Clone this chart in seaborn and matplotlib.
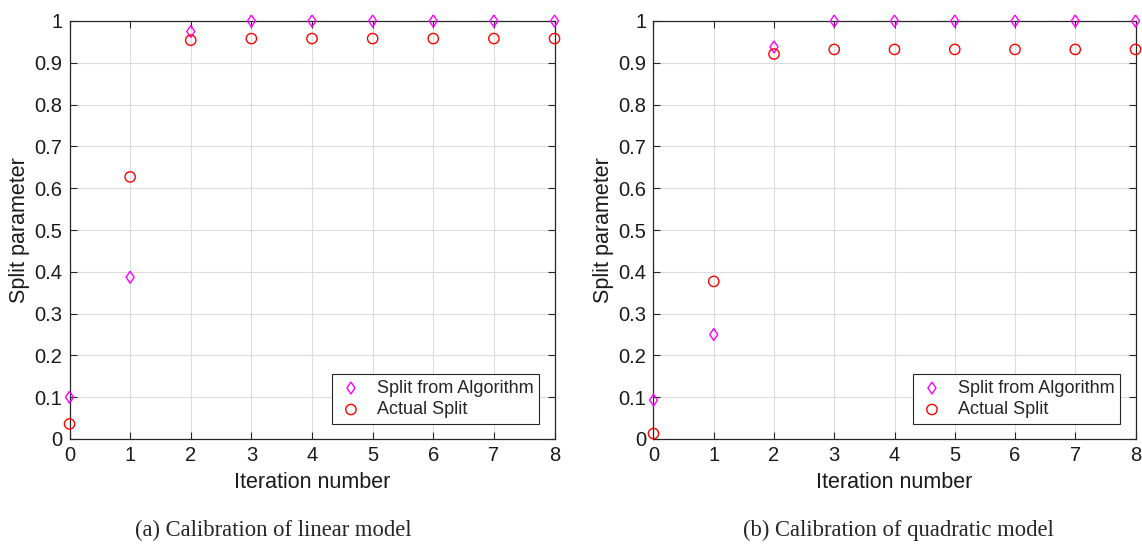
import matplotlib
matplotlib.use("Agg")
import matplotlib.pyplot as plt
import seaborn as sns
import pandas as pd

iterations = [0, 1, 2, 3, 4, 5, 6, 7, 8]
linear_algo = [0.100, 0.387, 0.975, 1.0, 1.0, 1.0, 1.0, 1.0, 1.0]
linear_actual = [0.036, 0.627, 0.954, 0.958, 0.958, 0.958, 0.958, 0.958, 0.958]
quad_algo = [0.093, 0.250, 0.938, 1.0, 1.0, 1.0, 1.0, 1.0, 1.0]
quad_actual = [0.013, 0.377, 0.921, 0.932, 0.932, 0.932, 0.932, 0.932, 0.932]
series_names = ["Split from Algorithm", "Actual Split"]
captions = ["(a) Calibration of linear model", "(b) Calibration of quadratic model"]
yticks = [0, 0.1, 0.2, 0.3, 0.4, 0.5, 0.6, 0.7, 0.8, 0.9, 1]
ytick_labels = ["0", "0.1", "0.2", "0.3", "0.4", "0.5", "0.6", "0.7", "0.8", "0.9", "1"]

sns.set_style("white")
plt.rcParams["font.family"] = ["Liberation Sans", "DejaVu Sans"]

# MATLAB-style diamond marker shape (width/height ~ 0.67)
diamond = [(0, 1), (0.67, 0), (0, -1), (-0.67, 0), (0, 1)]

W, H = 1142, 547
fig = plt.figure(figsize=(W / 100, H / 100), dpi=100)

panels = [(linear_algo, linear_actual), (quad_algo, quad_actual)]
lefts = [69.5, 653.5]
rights = [554.5, 1135.5]
caption_x = [273, 898]
top_px, bot_px = 21, 439

for i, (algo, actual) in enumerate(panels):
    ax = fig.add_axes([lefts[i] / W, 1 - bot_px / H, (rights[i] - lefts[i]) / W, (bot_px - top_px) / H])
    df_algo = pd.DataFrame({"x": iterations, "y": algo})
    df_act = pd.DataFrame({"x": iterations, "y": actual})
    sns.scatterplot(data=df_algo, x="x", y="y", ax=ax, marker=diamond, s=74,
                    facecolor="none", edgecolor="#ff00ff", linewidth=1.0,
                    label=series_names[0], clip_on=False, zorder=5)
    sns.scatterplot(data=df_act, x="x", y="y", ax=ax, marker="o", s=55,
                    facecolor="none", edgecolor="#ff0000", linewidth=1.0,
                    label=series_names[1], clip_on=False, zorder=5)
    ax.set_xlim(0, 8)
    ax.set_ylim(0, 1)
    ax.set_xticks(iterations)
    ax.set_xticklabels([str(v) for v in iterations], fontsize=14.5)
    ax.set_yticks(yticks)
    ax.set_yticklabels(ytick_labels, fontsize=14.5)
    ax.grid(True, color="#dcdcdc", linewidth=0.8)
    ax.set_axisbelow(True)
    for side in ["top", "right", "bottom", "left"]:
        ax.spines[side].set_visible(True)
        ax.spines[side].set_color("#262626")
        ax.spines[side].set_linewidth(0.9)
    ax.tick_params(direction="in", length=5, width=0.8, color="#262626",
                   top=True, right=True, bottom=True, left=True,
                   labelcolor="#1a1a1a", pad=5)
    ax.set_xlabel("Iteration number", fontsize=15.5, color="#1a1a1a", labelpad=5)
    ax.set_ylabel("Split parameter", fontsize=15.5, color="#1a1a1a", labelpad=3)
    leg = ax.legend(loc="lower right", fontsize=13, frameon=True, fancybox=False,
                    edgecolor="#262626", framealpha=1, borderaxespad=0.85,
                    handletextpad=0.7, borderpad=0.3, labelspacing=0.25,
                    handlelength=1.5)
    leg.get_frame().set_linewidth(0.8)
    fig.text(caption_x[i] / W, 1 - 530 / H, captions[i],
             ha="center", va="center", fontsize=16.3,
             family=["Liberation Serif", "DejaVu Serif"])

fig.savefig("out.png", dpi=100)
